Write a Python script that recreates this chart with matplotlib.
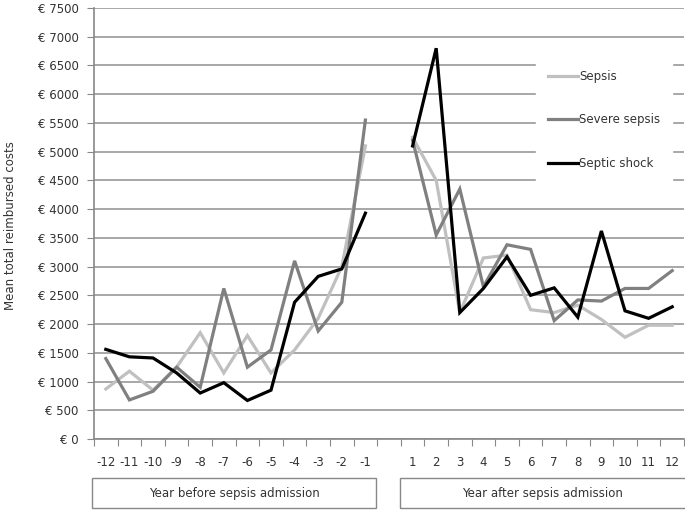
import matplotlib
matplotlib.use("Agg")
import matplotlib.pyplot as plt
from matplotlib.patches import Rectangle
import numpy as np

years_before = [-12, -11, -10, -9, -8, -7, -6, -5, -4, -3, -2, -1]
years_after = [1, 2, 3, 4, 5, 6, 7, 8, 9, 10, 11, 12]

sepsis_before = [870, 1180, 850, 1250, 1850, 1150, 1800, 1150, 1550, 2100, 3000, 5100]
severe_before = [1400, 680, 830, 1250, 900, 2620, 1250, 1550, 3100, 1880, 2380, 5550]
shock_before = [1560, 1430, 1410, 1150, 800, 980, 670, 850, 2380, 2830, 2960, 3930]

sepsis_after = [5250, 4500, 2200, 3150, 3200, 2250, 2200, 2330, 2080, 1770, 1980, 1980]
severe_after = [5200, 3550, 4350, 2650, 3380, 3300, 2060, 2420, 2400, 2620, 2620, 2930]
shock_after = [5100, 6800, 2200, 2620, 3170, 2500, 2630, 2120, 3620, 2230, 2100, 2300]

series_names = ["Sepsis", "Severe sepsis", "Septic shock"]
series_colors = ["#c0c0c0", "#808080", "#000000"]
group_labels = ["Year before sepsis admission", "Year after sepsis admission"]
y_ticks = list(range(0, 7501, 500))

fig = plt.figure(figsize=(6.85, 5.11), dpi=100)
ax = fig.add_axes([94/685, 72/511, 590/685, 431/511])

xb = np.arange(len(years_before))
xa = np.arange(len(years_after)) + len(years_before) + 1

for name, col, b, a in zip(series_names, series_colors,
                           [sepsis_before, severe_before, shock_before],
                           [sepsis_after, severe_after, shock_after]):
    ax.plot(xb, b, color=col, lw=2.3, solid_joinstyle="miter", label=name)
    ax.plot(xa, a, color=col, lw=2.3, solid_joinstyle="miter")

ncat = len(years_before) + 1 + len(years_after)
ax.set_xlim(-0.5, ncat - 0.5)
ax.set_ylim(0, 7500)
ax.set_yticks(y_ticks)
ax.set_yticklabels([f"€ {v}" for v in y_ticks], fontsize=8.5, color="#333333")
ax.yaxis.grid(True, color="#a0a0a0", lw=1.3)
ax.set_axisbelow(True)

ax.set_xticks(np.arange(-0.5, ncat, 1.0))
ax.set_xticklabels([])
ax.set_xticks(list(xb) + list(xa), minor=True)
ax.set_xticklabels([str(v) for v in years_before] + [str(v) for v in years_after],
                   minor=True, fontsize=8.5, color="#333333")
ax.tick_params(axis="x", which="major", length=5, color="#888888", direction="out")
ax.tick_params(axis="x", which="minor", length=0, pad=12)
ax.tick_params(axis="y", length=5, color="#888888", pad=6)

for s in ["top", "right"]:
    ax.spines[s].set_visible(False)
for s in ["left", "bottom"]:
    ax.spines[s].set_color("#888888")
    ax.spines[s].set_linewidth(1.2)

W, H = 685, 511
fig.text(11/W, (H-226)/H, "Mean total reimbursed costs", rotation=90,
         ha="center", va="center", fontsize=8.5, color="#333333")

leg = ax.legend(loc="upper left", bbox_to_anchor=((530-94)/590, (439-52)/431),
                frameon=True, fontsize=8.5, handlelength=2.6, handletextpad=0.05,
                labelspacing=2.6, borderpad=1.0, fancybox=False)
leg.get_frame().set_edgecolor("white")
leg.get_frame().set_facecolor("white")
leg.get_frame().set_alpha(1.0)
for t in leg.get_texts():
    t.set_color("#333333")

# group boxes
boxes = [(92, 376), (400, 690)]
for (x0, x1), lab in zip(boxes, group_labels):
    r = Rectangle((x0/W, (H-508)/H), (x1-x0)/W, 30/H, transform=fig.transFigure,
                  fill=False, edgecolor="#888888", lw=1.0, clip_on=False)
    fig.add_artist(r)
    fig.text((x0 + min(x1, W)) / 2 / W, (H-493)/H, lab,
             ha="center", va="center", fontsize=8.5, color="#333333")

fig.savefig("out.png", dpi=100)
